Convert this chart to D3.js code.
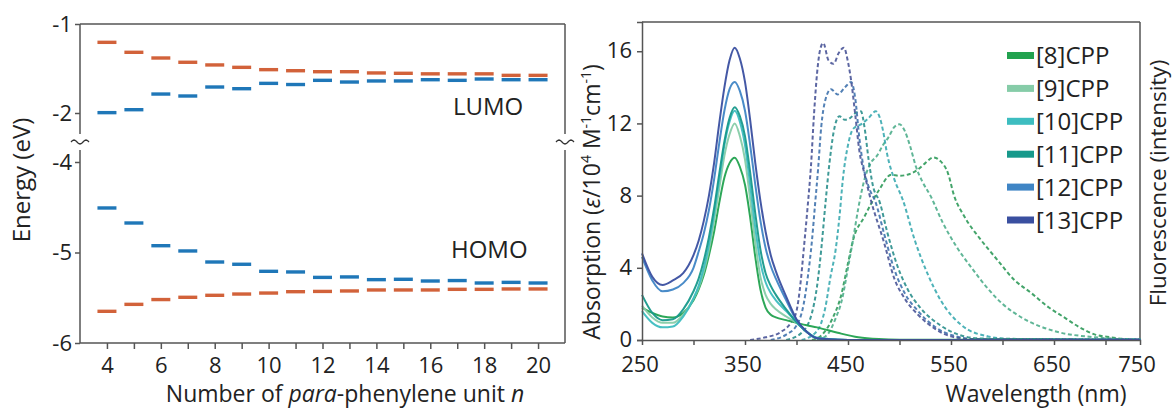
<!DOCTYPE html>
<html><head><meta charset="utf-8">
<script src="https://cdn.jsdelivr.net/npm/d3@7"></script>
<style>body{margin:0;background:#fff}svg{display:block;font-family:'Open Sans',sans-serif}</style>
</head><body><svg id="c" width="1174" height="408"></svg>
<script>
// ---------- Left panel data ----------
const nUnits = [4,5,6,7,8,9,10,11,12,13,14,15,16,17,18,19,20];
const lumoRed  = [-1.206,-1.318,-1.382,-1.43,-1.46,-1.487,-1.513,-1.525,-1.536,-1.536,-1.55,-1.554,-1.56,-1.56,-1.56,-1.577,-1.577];
const lumoBlue = [-1.996,-1.963,-1.787,-1.809,-1.708,-1.727,-1.667,-1.68,-1.633,-1.652,-1.64,-1.64,-1.626,-1.633,-1.618,-1.626,-1.626];
const homoBlue = [-4.508,-4.674,-4.925,-4.983,-5.105,-5.13,-5.208,-5.215,-5.275,-5.27,-5.3,-5.296,-5.315,-5.31,-5.337,-5.33,-5.337];
const homoRed  = [-5.65,-5.573,-5.52,-5.495,-5.473,-5.459,-5.448,-5.433,-5.43,-5.425,-5.414,-5.414,-5.414,-5.407,-5.407,-5.403,-5.403];
const xTicksL = [4,5,6,7,8,9,10,11,12,13,14,15,16,17,18,19,20];
const xLabelsL = [4,6,8,10,12,14,16,18,20];
const yTicksUpper = [-1,-2];
const yTicksLower = [-4,-5,-6];

// ---------- Right panel data ----------
const cppNames = ["[8]CPP","[9]CPP","[10]CPP","[11]CPP","[12]CPP","[13]CPP"];
const cppColors = ["#22a24f","#86cca8","#3dbdc0","#17998b","#3f85c5","#3a4fa0"];
const flColors  = ["#2f9a5a","#4fae8c","#3aaab0","#2a8f8c","#3f72ad","#4a5598"];
const absWl = [250,260,270,280,290,300,305,310,315,320,325,330,335,340,345,350,355,360,365,370,375,380,390,400,410,420,440,460,480,500,734];
const abs8  = [1.8,1.5,1.3,1.25,1.5,2.2,2.8,3.6,4.7,6.0,7.6,9.0,9.8,10.1,9.6,8.6,6.8,4.6,2.8,1.8,1.4,1.25,1.1,0.95,0.82,0.7,0.4,0.15,0.05,0.02,0];
const abs9  = [1.9,1.25,0.95,0.95,1.4,2.3,2.9,3.8,5.0,6.6,8.4,10.2,11.4,12.0,11.3,10.0,7.8,5.4,3.5,2.5,2.0,1.7,1.3,0.95,0.45,0.12,0.02,0,0,0,0];
const abs10 = [1.6,0.95,0.7,0.75,1.3,2.3,3.0,4.0,5.3,7.0,8.9,10.8,12.1,12.7,12.1,10.8,8.6,6.2,4.3,3.2,2.6,2.2,1.6,1.0,0.45,0.12,0.02,0,0,0,0];
const abs11 = [2.5,1.5,1.1,1.15,1.7,2.7,3.4,4.4,5.7,7.3,9.2,11.0,12.3,12.9,12.4,11.3,9.3,7.0,5.0,3.7,3.0,2.5,1.7,1.0,0.45,0.1,0.02,0,0,0,0];
const abs12 = [4.6,3.3,2.7,2.8,3.15,4.0,4.9,5.9,7.2,8.9,10.9,12.7,13.9,14.3,13.8,12.7,10.8,8.6,6.6,5.1,4.1,3.4,2.2,1.1,0.45,0.1,0.02,0,0,0,0];
const abs13 = [4.8,3.5,3.05,3.3,3.7,4.7,5.5,6.6,8.0,9.8,12.0,14.0,15.5,16.2,15.6,14.3,12.2,9.8,7.7,6.0,4.7,3.8,2.4,1.15,0.45,0.1,0.02,0,0,0,0];

const fl8Wl = [415,425,435,443,450,455,466,480,492,500,510,518,525,533,540,547,553,563,579,595,612,628,645,660,675,690,705,720,734];
const fl8   = [0,0.3,1.2,2.4,4.25,5.55,6.84,8.3,9.16,9.1,9.2,9.45,9.8,10.12,9.9,9.25,8.0,6.84,5.55,4.44,3.3,2.6,1.8,1.25,0.7,0.3,0.15,0.05,0.03];
const fl9Wl = [420,430,438,444,450,455,460,466,472,478,484,489,495,500,505,510,516,522,530,542,555,570,585,600,620,650,690,715,734];
const fl9   = [0,0.3,1.2,2.2,4.0,5.6,7.3,8.9,9.8,10.2,10.8,11.2,11.8,11.95,11.6,10.8,9.6,8.8,8.0,6.5,5.2,4.0,2.9,2.0,1.2,0.5,0.15,0.05,0.03];
const fl10Wl = [405,420,428,433,438,442,445,450,455,464,470,477,481,484,488,495,503,515,527,540,560,586,610,734];
const fl10   = [0,0.5,1.8,3.5,5.0,7.0,8.9,10.8,11.7,12.0,12.3,12.67,12.3,11.6,10.3,8.9,7.8,5.5,3.7,2.2,0.83,0.2,0.05,0.03];
const fl11Wl = [390,405,415,420,424,428,432,436,441.6,447,452,458,462.6,466,470,474,481,488,498,508,520,540,560,580,734];
const fl11   = [0,0.4,1.5,3.0,5.0,7.5,9.8,11.5,12.4,12.2,12.3,12.6,12.67,11.8,10.0,8.6,7.6,6.0,4.1,2.8,1.8,0.8,0.25,0.08,0.03];
const fl12Wl = [375,390,400,407,411,415,418,421,424,428,433.5,440,447,453,457,461,465,470,477,485,495,505,518,535,555,575,734];
const fl12   = [0,0.3,0.8,2.0,3.5,5.5,7.5,9.5,11.8,13.3,13.9,13.6,14.0,14.3,13.4,11.2,9.6,8.5,7.6,5.9,3.9,2.6,1.6,0.7,0.2,0.05,0.03];
const fl13Wl = [355,370,385,395,400,404,407,411,414,417,420,423,426,431,436,441,446,450,453,457,461,466,472,485,495,505,518,535,550,570,734];
const fl13   = [0,0.15,0.45,1.0,1.6,3.2,5.0,7.5,9.6,12.5,14.8,16.1,16.45,15.5,15.3,15.9,16.2,15.4,14.4,12.5,10.5,9.2,7.8,5.4,3.4,2.3,1.4,0.6,0.2,0.05,0.03];
const xTicksR = [300,350,400,450,500,550,600,650,700];
const xLabelsR = [250,350,450,550,650];
const yTicksR = [0,4,8,12,16];

const absSeries = [abs8,abs9,abs10,abs11,abs12,abs13];
const flSeries = [[fl8Wl,fl8],[fl9Wl,fl9],[fl10Wl,fl10],[fl11Wl,fl11],[fl12Wl,fl12],[fl13Wl,fl13]];

const svg = d3.select("#c");
const axisCol = "#555", textCol = "#222";

// ================= LEFT PANEL =================
const L = {l:80, r:565, t:24, b:343};
const xL = d3.scaleLinear().domain([3,21]).range([L.l,L.r]);
const yU = d3.scaleLinear().domain([-1,-2]).range([24,113]);
const yD = d3.scaleLinear().domain([-4,-6]).range([162,343]);
const gL = svg.append("g");

const breakY = 142;
function wave(x){
  const p = d3.path(); p.moveTo(x-9, breakY);
  for(let i=1;i<=18;i++){ p.lineTo(x-9+i, breakY - 2*Math.sin(i/18*Math.PI*3)); }
  return p.toString();
}
gL.append("line").attr("x1",L.l).attr("x2",L.r).attr("y1",L.t).attr("y2",L.t).attr("stroke",axisCol).attr("stroke-width",1.5);
gL.append("line").attr("x1",L.l).attr("x2",L.r).attr("y1",L.b).attr("y2",L.b).attr("stroke",axisCol).attr("stroke-width",1.5);
[L.l, L.r].forEach(x=>{
  gL.append("line").attr("x1",x).attr("x2",x).attr("y1",L.t).attr("y2",breakY-8).attr("stroke",axisCol).attr("stroke-width",1.5);
  gL.append("line").attr("x1",x).attr("x2",x).attr("y1",breakY+8).attr("y2",L.b).attr("stroke",axisCol).attr("stroke-width",1.5);
  gL.append("path").attr("d",wave(x)).attr("fill","none").attr("stroke","#333").attr("stroke-width",1.3);
});

const yAxU = gL.append("g").attr("transform",`translate(${L.l},0)`)
  .call(d3.axisLeft(yU).tickValues(yTicksUpper).tickSize(5).tickFormat(d=>String(d)));
const yAxD = gL.append("g").attr("transform",`translate(${L.l},0)`)
  .call(d3.axisLeft(yD).tickValues(yTicksLower).tickSize(5).tickFormat(d=>String(d)));
const xAxL = gL.append("g").attr("transform",`translate(0,${L.b})`)
  .call(d3.axisBottom(xL).tickValues(xTicksL).tickSize(6).tickFormat(d=>xLabelsL.includes(d)?String(d):""));
[yAxU,yAxD,xAxL].forEach(a=>{
  a.select(".domain").remove();
  a.selectAll(".tick line").attr("stroke",axisCol).attr("stroke-width",1.5);
  a.selectAll(".tick text").attr("fill",textCol).style("font-size","22px").style("font-family","'Open Sans',sans-serif");
});
yAxU.selectAll(".tick text").attr("x",-8);
yAxD.selectAll(".tick text").attr("x",-8);
xAxL.selectAll(".tick text").attr("dy","0").attr("y",30);

function dashes(vals, scale, color){
  gL.append("g").selectAll("line").data(nUnits).join("line")
    .attr("x1",(d)=>xL(d)-9.5).attr("x2",(d)=>xL(d)+9.5)
    .attr("y1",(d,i)=>scale(vals[i])).attr("y2",(d,i)=>scale(vals[i]))
    .attr("stroke",color).attr("stroke-width",3.4);
}
const red="#d2623a", blue="#1f77b8";
dashes(lumoRed, yU, red);
dashes(lumoBlue, yU, blue);
dashes(homoBlue, yD, blue);
dashes(homoRed, yD, red);

gL.append("text").attr("x",453).attr("y",115).attr("fill",textCol).style("font-size","24px").text("LUMO");
gL.append("text").attr("x",451).attr("y",258).attr("fill",textCol).style("font-size","24px").text("HOMO");

const xt = gL.append("text").attr("x",345).attr("y",402).attr("text-anchor","middle").attr("fill",textCol).style("font-size","23px");
xt.append("tspan").text("Number of ");
xt.append("tspan").style("font-style","italic").text("para");
xt.append("tspan").text("-phenylene unit ");
xt.append("tspan").style("font-style","italic").text("n");
gL.append("text").attr("transform","translate(30,180) rotate(-90)").attr("text-anchor","middle").attr("fill",textCol).style("font-size","24px").text("Energy (eV)");

// ================= RIGHT PANEL =================
const R = {l:642, r:1140, t:22, b:340};
const xR = d3.scaleLinear().domain([250,733.5]).range([R.l,R.r]);
const yR = d3.scaleLinear().domain([0,17.62]).range([R.b,R.t]);
const gR = svg.append("g");

gR.append("line").attr("x1",R.l).attr("x2",R.r).attr("y1",R.t).attr("y2",R.t).attr("stroke",axisCol).attr("stroke-width",1.5);
gR.append("line").attr("x1",R.r).attr("x2",R.r).attr("y1",R.t).attr("y2",R.b).attr("stroke",axisCol).attr("stroke-width",1.5);

const line = d3.line().curve(d3.curveMonotoneX);
flSeries.forEach(([wl,v],k)=>{
  gR.append("path").attr("d",line(wl.map((w,i)=>[xR(w),yR(v[i])])))
    .attr("fill","none").attr("stroke",flColors[k]).attr("stroke-width",2)
    .attr("stroke-dasharray","4,2.6").attr("opacity",0.9);
});
absSeries.forEach((v,k)=>{
  gR.append("path").attr("d",line(absWl.map((w,i)=>[xR(w),yR(v[i])])))
    .attr("fill","none").attr("stroke",cppColors[k]).attr("stroke-width",2).attr("opacity",0.95);
});

const yAxR = gR.append("g").attr("transform",`translate(${R.l},0)`)
  .call(d3.axisLeft(yR).tickValues(yTicksR).tickSize(5).tickFormat(d=>String(d)));
const xAxR = gR.append("g").attr("transform",`translate(0,${R.b})`)
  .call(d3.axisBottom(xR).tickValues(xTicksR).tickSize(5).tickFormat(()=>""));
[yAxR,xAxR].forEach(a=>{
  a.select(".domain").attr("stroke",axisCol).attr("stroke-width",1.5);
  a.selectAll(".tick line").attr("stroke",axisCol).attr("stroke-width",1.5);
  a.selectAll(".tick text").attr("fill",textCol).style("font-size","22px").style("font-family","'Open Sans',sans-serif");
});
yAxR.selectAll(".tick text").attr("x",-10).attr("dy","0.3em");
const xLab = gR.append("g").style("font-size","22px").attr("fill",textCol).attr("text-anchor","middle");
xLab.selectAll("text").data(xLabelsR).join("text").attr("x",d=>xR(d)-2).attr("y",372).text(d=>d);
xLab.append("text").attr("x",xR.range()[1]-3).attr("y",372).text("750");

const lg = gR.append("g");
cppNames.forEach((nm,k)=>{
  const cy = 55.5 + k*32.9;
  lg.append("rect").attr("x",1007).attr("y",cy-3.5).attr("width",27).attr("height",7).attr("fill",cppColors[k]);
  lg.append("text").attr("x",1036).attr("y",cy+8.5).attr("fill",textCol).style("font-size","24px").text(nm);
});

gR.append("text").attr("x",1036).attr("y",402).attr("text-anchor","middle").attr("fill",textCol).style("font-size","23px").text("Wavelength (nm)");
const at = gR.append("text").attr("transform","translate(600,202) rotate(-90)").attr("text-anchor","middle").attr("fill",textCol).style("font-size","23px");
at.append("tspan").text("Absorption (");
at.append("tspan").style("font-style","italic").text("ε");
at.append("tspan").text("/10");
at.append("tspan").attr("dy",-9).style("font-size","14px").text("4");
at.append("tspan").attr("dy",9).text(" M");
at.append("tspan").attr("dy",-9).style("font-size","14px").text("-1");
at.append("tspan").attr("dy",9).text("cm");
at.append("tspan").attr("dy",-9).style("font-size","14px").text("-1");
at.append("tspan").attr("dy",9).text(")");
gR.append("text").attr("transform","translate(1166,183) rotate(-90)").attr("text-anchor","middle").attr("fill",textCol).style("font-size","22.5px").text("Fluorescence (intensity)");
</script></body></html>
